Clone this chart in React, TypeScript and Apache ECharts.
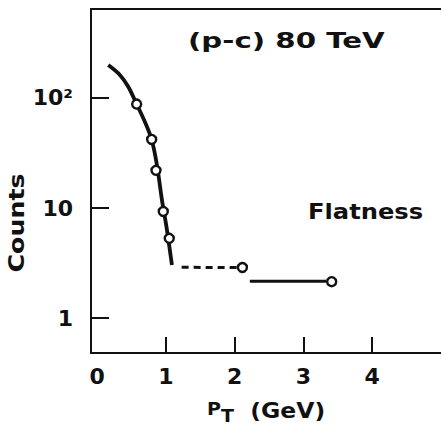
import React, { useEffect, useRef } from "react";
import * as echarts from "echarts";

// Fitted curve (p_T in GeV, counts)
const fitCurve: [number, number][] = [
  [0.161, 199], [0.33, 162], [0.45, 127], [0.574, 88], [0.695, 60.5],
  [0.792, 42], [0.869, 24.6], [0.942, 11.8], [1.015, 6.3], [1.087, 3.03],
];
// Measured points (open circles)
const dataPoints: [number, number][] = [
  [0.574, 88], [0.792, 42], [0.855, 22], [0.961, 9.3], [1.048, 5.3],
  [2.112, 2.88], [3.41, 2.14],
];
// Dashed connection
const dashedSeg: [number, number][] = [[1.228, 2.89], [2.06, 2.88]];
// Flat solid segment
const flatSeg: [number, number][] = [[2.22, 2.16], [3.33, 2.16]];

const xTickLabels = [0, 1, 2, 3, 4];
const xTickMarks = [1, 2, 3, 4];
const yTicks = [1, 10, 100];
const yTickLabels: Record<number, string> = { 1: "1", 10: "10", 100: "10²" };

const FONT = "DejaVu Sans";
const INK = "#111";

export default function App() {
  const ref = useRef<HTMLDivElement>(null);
  useEffect(() => {
    if (!ref.current) return;
    const chart = echarts.init(ref.current, null, { renderer: "svg" });
    const axisText = { fontFamily: FONT, fontSize: 22, fontWeight: "bold" as const, color: INK };
    chart.setOption({
      animation: false,
      backgroundColor: "#fff",
      grid: { left: 91, right: 0, top: 9, bottom: 77, show: false },
      xAxis: [
        {
          type: "value",
          min: -0.09,
          max: 5.0,
          position: "bottom",
          splitLine: { show: false },
          axisLine: { show: true, onZero: false, lineStyle: { color: INK, width: 2 } },
          axisTick: { show: true, inside: true, length: 16, customValues: xTickMarks, lineStyle: { color: INK, width: 2 } },
          axisLabel: { show: true, customValues: xTickLabels, margin: 12, ...axisText, formatter: (v: number) => String(Math.round(v)) },
        },
        {
          type: "value",
          min: -0.09,
          max: 5.0,
          position: "top",
          splitLine: { show: false },
          axisLine: { show: true, onZero: false, lineStyle: { color: INK, width: 2 } },
          axisTick: { show: false },
          axisLabel: { show: false },
        },
      ],
      yAxis: {
        type: "log",
        logBase: 10,
        min: 0.481,
        max: 644,
        splitLine: { show: false },
        minorTick: { show: false },
        axisLine: { show: true, onZero: false, lineStyle: { color: INK, width: 2 } },
        axisTick: { show: true, inside: true, length: 18, customValues: yTicks, lineStyle: { color: INK, width: 2 } },
        axisLabel: {
          show: true,
          customValues: yTicks,
          margin: 18,
          ...axisText,
          formatter: (v: number) => yTickLabels[Math.round(v)] ?? "",
        },
      },
      series: [
        {
          type: "line",
          name: "fit",
          data: fitCurve,
          smooth: 0.3,
          showSymbol: false,
          symbol: "none",
          lineStyle: { color: INK, width: 3.8 },
          z: 2,
        },
        {
          type: "line",
          name: "dashed",
          data: dashedSeg,
          showSymbol: false,
          symbol: "none",
          lineStyle: { color: INK, width: 3, type: [7, 5] },
          z: 2,
        },
        {
          type: "line",
          name: "flat",
          data: flatSeg,
          showSymbol: false,
          symbol: "none",
          lineStyle: { color: INK, width: 3.2 },
          z: 2,
        },
        {
          type: "scatter",
          name: "data",
          data: dataPoints,
          symbol: "circle",
          symbolSize: 9,
          itemStyle: { color: "#fff", borderColor: INK, borderWidth: 2.4, opacity: 1 },
          emphasis: { disabled: true },
          z: 5,
        },
      ],
      graphic: [
        {
          type: "text",
          x: 188,
          y: 40,
          scaleX: 1.33,
          style: { text: "(p-c) 80 TeV", fontFamily: FONT, fontSize: 22, fontWeight: "bold", fill: INK, textAlign: "left", textVerticalAlign: "middle" },
        },
        {
          type: "text",
          x: 308,
          y: 211,
          scaleX: 1.1,
          style: { text: "Flatness", fontFamily: FONT, fontSize: 22, fontWeight: "bold", fill: INK, textAlign: "left", textVerticalAlign: "middle" },
        },
        {
          type: "text",
          x: 17,
          y: 223,
          rotation: Math.PI / 2,
          scaleX: 1.15,
          style: { text: "Counts", fontFamily: FONT, fontSize: 22, fontWeight: "bold", fill: INK, textAlign: "center", textVerticalAlign: "middle" },
        },
        {
          type: "text",
          x: 207,
          y: 400,
          scaleX: 1.12,
          style: {
            text: "{p|P}{t|T}{g|  (GeV)}",
            fontFamily: FONT,
            fill: INK,
            textAlign: "left",
            textVerticalAlign: "top",
            rich: {
              p: { fontFamily: FONT, fontWeight: "bold", fontSize: 17, lineHeight: 17, verticalAlign: "top", fill: INK },
              t: { fontFamily: FONT, fontWeight: "bold", fontSize: 17, lineHeight: 18, verticalAlign: "bottom", fill: INK },
              g: { fontFamily: FONT, fontWeight: "bold", fontSize: 21, lineHeight: 24, verticalAlign: "top", fill: INK },
            },
          },
        },
      ],
    });
    return () => chart.dispose();
  }, []);
  return <div ref={ref} style={{ position: "absolute", left: 0, top: 0, width: 441, height: 430 }} />;
}
